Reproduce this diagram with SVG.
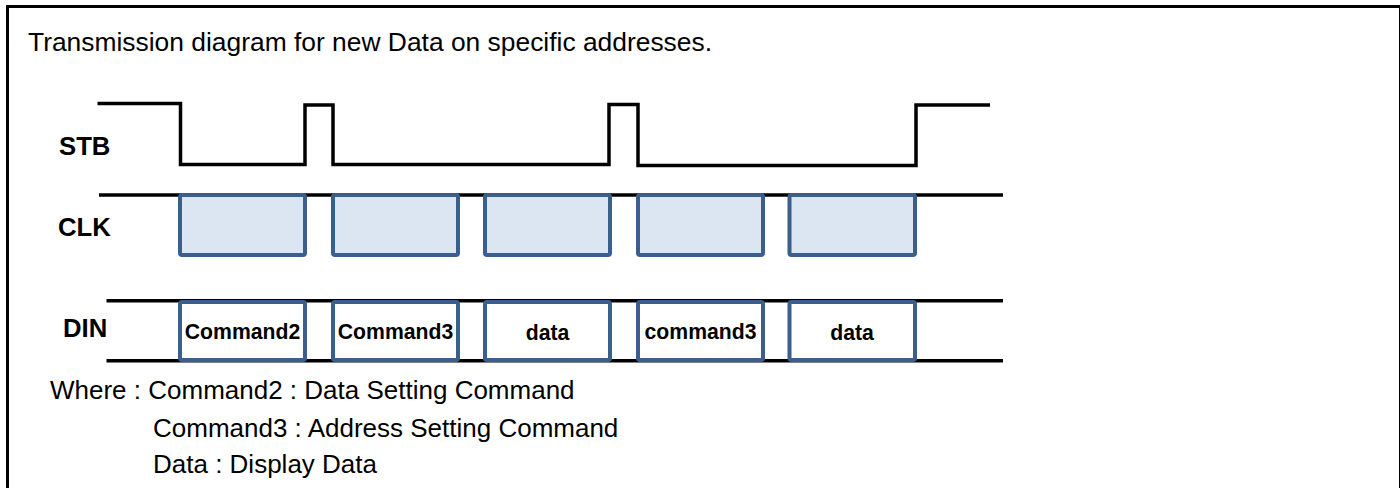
<svg xmlns="http://www.w3.org/2000/svg" width="1400" height="488" viewBox="0 0 1400 488">
  <style>
    .frame { fill: none; stroke: #000; stroke-width: 3; }
    .title { font-family: "Liberation Sans", Arial, sans-serif; font-size: 26.4px; fill: #000; }
    .label { font-family: "Liberation Sans", Arial, sans-serif; font-size: 25.7px; font-weight: bold; fill: #000; }
    .boxtext { font-family: "Liberation Sans", Arial, sans-serif; font-size: 21.2px; font-weight: bold; fill: #000; text-anchor: middle; }
    .legend { font-family: "Liberation Sans", Arial, sans-serif; font-size: 26px; fill: #000; }
    .wire { fill: none; stroke: #000; stroke-width: 3.5; stroke-linejoin: miter; stroke-linecap: butt; }
    .clkbox { fill: #dce6f2; stroke: #3a5f8c; stroke-width: 4; }
    .dinbox { fill: #ffffff; stroke: #3a5f8c; stroke-width: 4; }
  </style>
  <rect width="1400" height="488" fill="#ffffff"/>
  <rect class="frame" x="7.5" y="6.5" width="1393" height="500"/>
  <text class="title" x="28" y="51">Transmission diagram for new Data on specific addresses.</text>

  <g id="labels">
    <text id="label-stb" class="label" x="59" y="155">STB</text>
    <text id="label-clk" class="label" x="58" y="236">CLK</text>
    <text id="label-din" class="label" x="63" y="337">DIN</text>
  </g>

  <g id="connectors">
    <path id="stb-wave" class="wire" d="M97.5,103.5 H180.5 V164.5 H305 V105 H333 V164.5 H609 V104.5 H638 V165.5 H916 V105 H990"/>
    <line id="clk-line" class="wire" x1="99" y1="195" x2="1003" y2="195"/>
    <line id="din-top" class="wire" x1="106.5" y1="300.7" x2="1003" y2="300.7"/>
    <line id="din-bottom" class="wire" x1="106.5" y1="360.7" x2="1003" y2="360.7"/>
  </g>

  <g id="clk-1"><rect class="clkbox" x="180" y="195" width="125" height="60" rx="2"/></g>
  <g id="clk-2"><rect class="clkbox" x="333" y="195" width="125" height="60" rx="2"/></g>
  <g id="clk-3"><rect class="clkbox" x="485" y="195" width="125" height="60" rx="2"/></g>
  <g id="clk-4"><rect class="clkbox" x="638" y="195" width="125" height="60" rx="2"/></g>
  <g id="clk-5"><rect class="clkbox" x="789.5" y="195" width="125.5" height="60" rx="2"/></g>

  <g id="din-1"><rect class="dinbox" x="180" y="302" width="125" height="58" rx="2"/><text class="boxtext" x="242.5" y="339">Command2</text></g>
  <g id="din-2"><rect class="dinbox" x="333" y="302" width="125" height="58" rx="2"/><text class="boxtext" x="395.5" y="339">Command3</text></g>
  <g id="din-3"><rect class="dinbox" x="485" y="302" width="125" height="58" rx="2"/><text class="boxtext" x="547.5" y="340">data</text></g>
  <g id="din-4"><rect class="dinbox" x="638" y="302" width="125" height="58" rx="2"/><text class="boxtext" x="700.5" y="339">command3</text></g>
  <g id="din-5"><rect class="dinbox" x="789.5" y="302" width="125.5" height="58" rx="2"/><text class="boxtext" x="852" y="340">data</text></g>

  <g id="legend">
    <text class="legend" x="50" y="399">Where : Command2 : Data Setting Command</text>
    <text class="legend" x="153" y="436.5">Command3 : Address Setting Command</text>
    <text class="legend" x="153" y="473">Data : Display Data</text>
  </g>
</svg>
